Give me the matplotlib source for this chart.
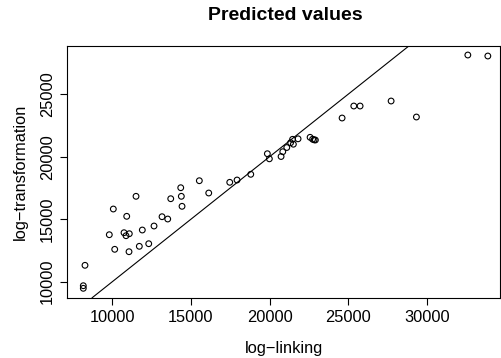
import matplotlib
matplotlib.use("Agg")
import matplotlib.pyplot as plt
import numpy as np

plt.rcParams['font.family'] = ['Liberation Sans', 'DejaVu Sans']

title = "Predicted values"
xlabel = "log\u2212linking"
ylabel = "log\u2212transformation"

log_linking = [8155, 8155, 8263, 9809, 10064, 10153, 10744, 10872, 11081, 10916,
               11062, 11508, 11718, 11908, 12316, 12653, 13162, 13524, 13715, 14351,
               14389, 14434, 15534, 16132, 17468, 17933, 18804, 19860, 19987, 20732,
               20840, 21094, 21336, 21463, 21514, 21813, 22577, 22736, 22831, 22913,
               24612, 25356, 25757, 27729, 29338, 32608, 33880]
log_transformation = [9680, 9472, 11312, 13760, 15816, 12592, 13920, 13680, 13840, 15232,
                      12400, 16832, 12832, 14136, 13040, 14456, 15200, 15016, 16640, 17520,
                      16832, 16032, 18080, 17096, 17952, 18136, 18592, 20240, 19832, 20016,
                      20400, 20736, 21120, 21392, 21000, 21432, 21552, 21400, 21352, 21336,
                      23096, 24056, 24056, 24456, 23176, 28136, 28056]

x_ticks = [10000, 15000, 20000, 25000, 30000]
y_ticks = [10000, 15000, 20000, 25000]

fig = plt.figure(figsize=(5.01, 3.58), dpi=100)
ax = fig.add_axes([0.1343, 0.1684, 0.864, 0.7039])

ax.scatter(log_linking, log_transformation, s=17, facecolors='none',
           edgecolors='black', linewidths=0.8, zorder=3)
ax.axline((0, 0), slope=1, color='black', linewidth=0.8)

ax.set_xlim(7137, 34663)
ax.set_ylim(8720, 28880)
ax.set_xticks(x_ticks)
ax.set_yticks(y_ticks)
ax.set_xticklabels([str(v) for v in x_ticks])
ax.set_yticklabels([str(v) for v in y_ticks], rotation=90, va='center')

ax.tick_params(axis='both', length=5, width=0.8, labelsize=11.8, pad=4, color='black')
for s in ax.spines.values():
    s.set_linewidth(0.8)
    s.set_color('black')

ax.set_xlabel(xlabel, fontsize=11.8, labelpad=11.5)
ax.set_ylabel(ylabel, fontsize=11.8, labelpad=8.5)
fig.text(0.5686, 1 - 15.7 / 358, title, fontsize=14, fontweight='bold',
         ha='center', va='center')

fig.savefig("out.png", dpi=100)
